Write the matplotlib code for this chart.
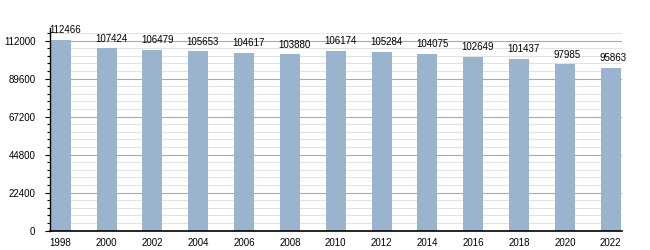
import matplotlib
matplotlib.use("Agg")
from matplotlib import pyplot
from matplotlib.ticker import MultipleLocator
import numpy as np

# population by census year
years = ["1998", "2000", "2002", "2004", "2006", "2008", "2010",
         "2012", "2014", "2016", "2018", "2020", "2022"]
population = [112466, 107424, 106479, 105653, 104617, 103880, 106174,
              105284, 104075, 102649, 101437, 97985, 95863]

pyplot.rcParams["font.family"] = ["Liberation Sans", "DejaVu Sans"]

fig = pyplot.figure(figsize=(6.5, 2.5), dpi=100)
ax = fig.add_axes([50/650, 19.3/250, 572/650, 202.4/250])

xpos = np.arange(len(years))
width = 0.436

ax.bar(xpos, population, width=width, color="#9ab4cd", zorder=2)

# value labels, left aligned on the bar edge
for x, v in zip(xpos, population):
    ax.annotate(str(v), (x - width/2, v), xytext=(-1, 3.5), textcoords="offset points",
                ha="left", va="bottom", fontsize=7, color="black")

ax.set_xlim(-0.233, 12.247)
ax.set_ylim(0, 119300)

ax.set_xticks(xpos)
ax.set_xticklabels(years)
ax.yaxis.set_major_locator(MultipleLocator(22400))
ax.yaxis.set_minor_locator(MultipleLocator(4480))

ax.grid(True, which="major", axis="y", color="#a9a9a9", linewidth=0.8, zorder=0)
ax.grid(True, which="minor", axis="y", color="#e2e2e2", linewidth=0.8, zorder=0)
ax.set_axisbelow(True)

ax.tick_params(axis="x", length=0, pad=5, labelsize=7)
ax.tick_params(axis="y", which="major", length=3.5, width=0.8, pad=7, labelsize=7)
ax.tick_params(axis="y", which="minor", length=2, width=0.8)

ax.spines["top"].set_visible(False)
ax.spines["right"].set_visible(False)
ax.spines["left"].set_linewidth(1)
ax.spines["bottom"].set_linewidth(1.2)

fig.savefig("out.png", dpi=100)
